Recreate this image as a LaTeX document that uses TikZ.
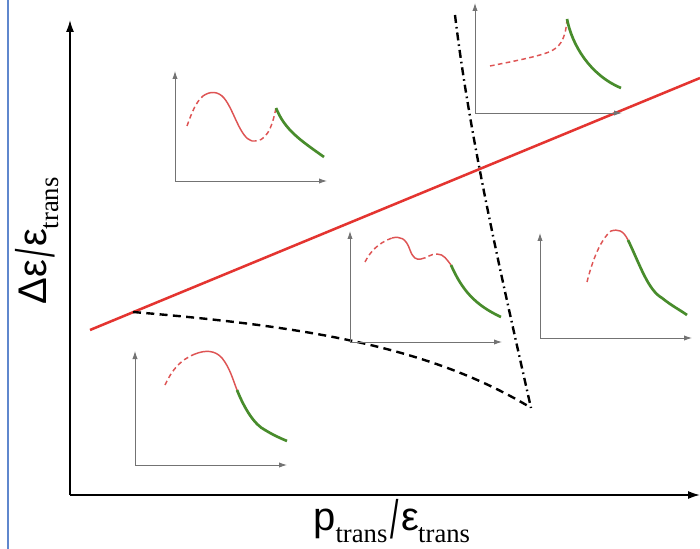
\documentclass[tikz,border=0pt]{standalone}
\usepackage{fontspec}
\setmainfont{Liberation Serif}
\newfontfamily\lsans{Liberation Sans}
\usetikzlibrary{arrows.meta}
\definecolor{mainred}{RGB}{228,52,48}
\definecolor{curvered}{RGB}{222,84,84}
\definecolor{curvegreen}{RGB}{72,140,44}
\definecolor{axgray}{RGB}{115,115,115}
\definecolor{edgeblue}{RGB}{95,135,205}
\tikzset{
  mainaxis/.style={line width=1.2pt,-{Latex[length=9pt,width=6pt]}},
  insetaxis/.style={draw=axgray,line width=0.7pt,-{Latex[length=6pt,width=4pt]}},
  reddash/.style={curvered,line width=1.1pt,dash pattern=on 3.5pt off 2.5pt},
  redsolid/.style={curvered,line width=1.1pt},
  greensolid/.style={curvegreen,line width=2pt},
  bigdash/.style={line width=1.8pt,dash pattern=on 6pt off 4pt},
  dashdot/.style={line width=1.8pt,dash pattern=on 6pt off 3pt on 1.2pt off 3pt},
  lbl/.style={inner sep=0pt,font=\fontsize{30}{32}\selectfont}
}
\newcommand{\subt}{{\fontsize{20}{22}\selectfont trans}}
\newcommand{\slsh}{\kern2pt\raisebox{-0.18em}{\scalebox{0.75}[1.35]{\lsans /}}\kern2pt}
\begin{document}
\begin{tikzpicture}[x=0.75pt,y=-0.75pt]
\useasboundingbox (0,0) rectangle (700,549);
\fill[white] (0,0) rectangle (700,549);
% left blue edge
\draw[edgeblue,line width=0.8pt] (8,0) -- (8,549);
% main axes
\coordinate (O) at (70,495);
\coordinate (Ytop) at (70,20);
\coordinate (Xend) at (700,495);
\draw[mainaxis] (O) -- (Ytop);
\draw[mainaxis] (O) -- (Xend);
% labels
\node[lbl,rotate=90] (ylab) at (37,241) {{\lsans Δε}\slsh{\lsans ε}\kern-0.5pt\raisebox{-0.3em}{\subt}};
\node[lbl] (xlab) at (392,521) {{\lsans p}\kern-0.5pt\raisebox{-0.3em}{\subt}\slsh{\lsans ε}\kern-0.5pt\raisebox{-0.3em}{\subt}};
% red main line
\coordinate (R1) at (90,330);
\coordinate (R2) at (700,78);
\draw[mainred,line width=1.9pt] (R1) -- (R2);
% dashed black boundary
\coordinate (D1) at (133,312);
\coordinate (D2) at (528,406);
\draw[bigdash] (D1) .. controls (300,326) and (425,345) .. (D2);
% dash-dot boundary
\coordinate (E1) at (455,15);
\coordinate (E2) at (531,408);
\draw[dashdot] (E1) .. controls (470,140) and (500,270) .. (E2);

% ---- inset 1 (top left)
\coordinate (a1) at (175,181);
\draw[insetaxis] (a1) -- (175,71);
\draw[insetaxis] (a1) -- (327,181);
\draw[reddash] (187,126) .. controls (192,112) and (196,102) .. (203,96);
\draw[redsolid] (203,96) .. controls (210,91) and (218,91) .. (224,98) .. controls (234,110) and (240,138) .. (252,141);
\draw[reddash] (252,141) .. controls (266,143) and (272,128) .. (276,108);
\draw[greensolid] (276,108) .. controls (285,130) and (300,140) .. (324,157);

% ---- inset 2 (top right)
\coordinate (a2) at (475,113);
\draw[insetaxis] (a2) -- (475,3);
\draw[insetaxis] (a2) -- (622,113);
\draw[reddash] (490,66) .. controls (520,60) and (545,55) .. (553,50) .. controls (562,45) and (566,35) .. (567,19);
\draw[greensolid] (567,19) .. controls (572,45) and (590,75) .. (621,88);

% ---- inset 3 (middle)
\coordinate (a3) at (350,342);
\draw[insetaxis] (a3) -- (350,231);
\draw[insetaxis] (a3) -- (502,342);
\draw[reddash] (365,262) .. controls (370,252) and (378,243) .. (392,238);
\draw[redsolid] (392,238) .. controls (400,236) and (406,238) .. (410,250) .. controls (413,258) and (416,260) .. (421,259);
\draw[reddash] (421,259) .. controls (427,258) and (430,254) .. (437,254);
\draw[redsolid] (437,254) .. controls (444,254) and (447,260) .. (451,265);
\draw[greensolid] (451,265) .. controls (462,290) and (475,305) .. (501,317);

% ---- inset 4 (right)
\coordinate (a4) at (540,338);
\draw[insetaxis] (a4) -- (540,233);
\draw[insetaxis] (a4) -- (692,338);
\draw[reddash] (587,282) .. controls (592,262) and (600,240) .. (611,231);
\draw[redsolid] (611,231) .. controls (618,229) and (623,230) .. (628,240);
\draw[greensolid] (628,240) .. controls (640,265) and (648,290) .. (662,298) .. controls (672,306) and (680,310) .. (687,315);

% ---- inset 5 (bottom left)
\coordinate (a5) at (135,465);
\draw[insetaxis] (a5) -- (135,351);
\draw[insetaxis] (a5) -- (287,465);
\draw[reddash] (165,385) .. controls (172,370) and (180,360) .. (195,354);
\draw[redsolid] (195,354) .. controls (205,350) and (215,350) .. (222,358) .. controls (230,368) and (233,380) .. (237,390);
\draw[greensolid] (237,390) .. controls (245,410) and (255,425) .. (265,430) .. controls (275,436) and (280,438) .. (287,441);
\end{tikzpicture}
\end{document}
